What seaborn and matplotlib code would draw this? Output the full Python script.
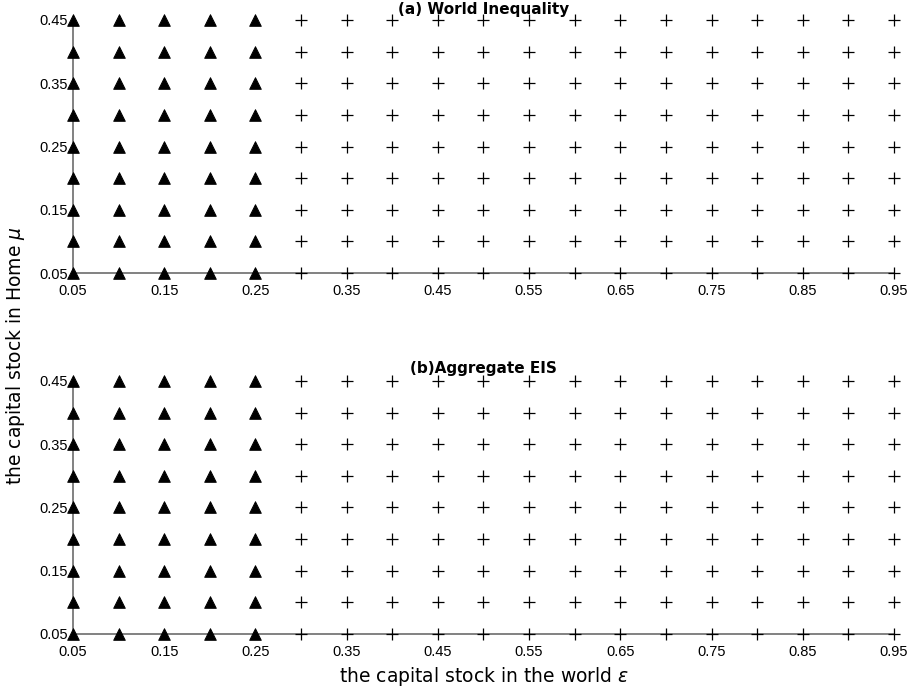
import pandas as pd
import numpy as np
from matplotlib import pyplot as plt
import seaborn as sns

# grid of parameter values
eps = [0.05, 0.10, 0.15, 0.20, 0.25, 0.30, 0.35, 0.40, 0.45, 0.50,
       0.55, 0.60, 0.65, 0.70, 0.75, 0.80, 0.85, 0.90, 0.95]
mu = [0.05, 0.10, 0.15, 0.20, 0.25, 0.30, 0.35, 0.40, 0.45]
# outcome per eps column (same for every mu row)
regime_a = ['tri'] * 5 + ['plus'] * 14
regime_b = ['tri'] * 5 + ['plus'] * 14
titles = ['(a) World Inequality', '(b)Aggregate EIS']
xticks = [0.05, 0.15, 0.25, 0.35, 0.45, 0.55, 0.65, 0.75, 0.85, 0.95]
yticks = [0.05, 0.15, 0.25, 0.35, 0.45]

sns.set_style('white')
plt.rcParams['font.family'] = ['Liberation Sans', 'DejaVu Sans']
plt.rcParams['text.color'] = 'black'

fig = plt.figure(figsize=(9.11, 6.94), dpi=100)
ax1 = fig.add_axes([0.0801, 0.6066, 0.9012, 0.3646])
ax2 = fig.add_axes([0.0801, 0.0865, 0.9012, 0.3646])

for ax, reg, ttl, ty in zip([ax1, ax2], [regime_a, regime_b], titles, [1.04, 1.05]):
    rows = []
    for i, e in enumerate(eps):
        for m in mu:
            rows.append({'eps': e, 'mu': m, 'regime': reg[i]})
    df = pd.DataFrame(rows)
    tri = df[df['regime'] == 'tri']
    pls = df[df['regime'] == 'plus']
    sns.scatterplot(data=tri, x='eps', y='mu', marker='^', s=70, color='black',
                    edgecolor='black', ax=ax, clip_on=False, zorder=3)
    sns.scatterplot(data=pls, x='eps', y='mu', marker='+', s=80, color='black',
                    linewidth=0.9, ax=ax, clip_on=False, zorder=3)
    ax.set_xlim(0.05, 0.95)
    ax.set_ylim(0.05, 0.45)
    ax.set_xticks(xticks)
    ax.set_xticklabels(['%.2f' % v for v in xticks])
    ax.set_yticks(yticks)
    ax.set_yticklabels(['%.2f' % v for v in yticks])
    ax.tick_params(direction='in', length=4, width=1, color='#777777',
                   labelsize=10.5, labelcolor='black')
    ax.tick_params(axis='x', pad=8)
    ax.tick_params(axis='y', pad=3.5)
    for s in ['top', 'right']:
        ax.spines[s].set_visible(False)
    for s in ['left', 'bottom']:
        ax.spines[s].set_color('#777777')
        ax.spines[s].set_linewidth(1.3)
    ax.set_xlabel('')
    ax.set_ylabel('')
    ax.text(0.5, ty, ttl, transform=ax.transAxes, ha='center', va='center',
            fontsize=11, fontweight='bold', family=['DejaVu Sans'], zorder=5)

fig.text(0.531, 0.0245, r'the capital stock in the world $\epsilon$',
         ha='center', va='center', fontsize=13.5, family=['DejaVu Sans'])
fig.text(0.0165, 0.487, r'the capital stock in Home $\mu$',
         ha='center', va='center', rotation=90, fontsize=13.5,
         family=['DejaVu Sans'])

plt.savefig('out.png', dpi=100)
